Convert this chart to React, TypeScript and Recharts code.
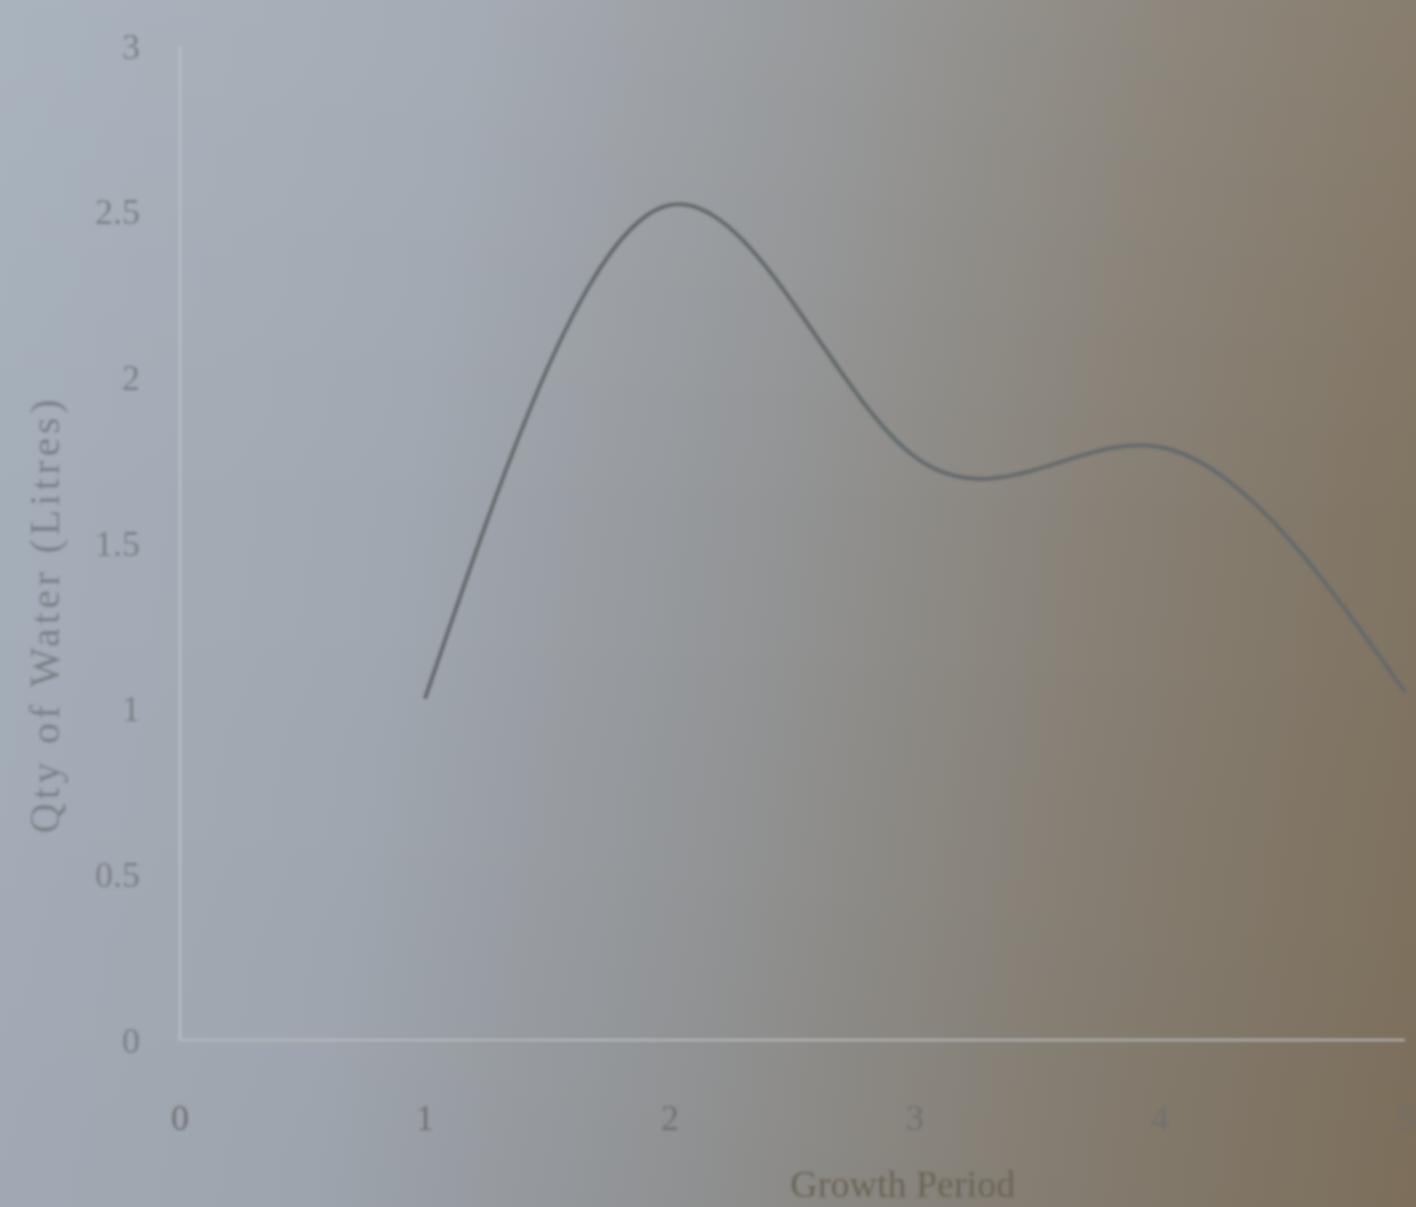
import React from 'react';
import { LineChart, Line, XAxis, YAxis } from 'recharts';

const periods = [1, 2, 3, 4, 5];
const water = [1.03, 2.52, 1.76, 1.79, 1.05];
const xTicks = [0, 1, 2, 3, 4, 5];
const yTicks = [0, 0.5, 1, 1.5, 2, 2.5, 3];
const xTitle = 'Growth Period';
const yTitle = 'Qty of Water (Litres)';

const data = periods.map((p, i) => ({ x: p, y: water[i] }));

const font = '"Liberation Serif", "DejaVu Serif", serif';

const YTitle = (props: any) => {
  const vb = props.viewBox || {};
  const cx = 45;
  const cy = (vb.y || 0) + (vb.height || 0) * 0.572;
  return (
    <text
      x={cx}
      y={cy}
      transform={`rotate(-90, ${cx}, ${cy})`}
      textAnchor="middle"
      dominantBaseline="central"
      fill="#7c8188"
      fontSize={42}
      letterSpacing={4}
      fontFamily={font}
    >
      {yTitle}
    </text>
  );
};

const XTitle = (props: any) => {
  const vb = props.viewBox || {};
  const cx = (vb.x || 0) + (vb.width || 0) * 0.59;
  const cy = 1184;
  return (
    <text
      x={cx}
      y={cy}
      textAnchor="middle"
      dominantBaseline="central"
      fill="#6c6456"
      fontSize={38}
      fontFamily={font}
    >
      {xTitle}
    </text>
  );
};

export default function App() {
  return (
    <div
      style={{
        position: 'absolute',
        left: 0,
        top: 0,
        width: 1416,
        height: 1207,
        background:
          'linear-gradient(180deg, rgba(255,255,255,0.05) 0%, rgba(255,255,255,0) 45%, rgba(0,0,0,0.02) 100%), linear-gradient(98deg, #a5afba 0%, #a0a7b0 30%, #939597 52%, #878075 75%, #7e705c 100%)',
        overflow: 'hidden',
      }}
    >
      <div style={{ filter: 'blur(1.6px)' }}>
        <LineChart
          width={1416}
          height={1207}
          data={data}
          margin={{ top: 46, right: 11, bottom: 0, left: 0 }}
        >
          <XAxis
            type="number"
            dataKey="x"
            domain={[0, 5]}
            ticks={xTicks}
            interval={0}
            height={167}
            tickLine={false}
            tickSize={0}
            tickMargin={64}
            axisLine={{ stroke: '#b9bcbf', strokeWidth: 2 }}
            tick={{ fill: '#717070', fontSize: 36, fontFamily: font }}
            label={<XTitle />}
          />
          <YAxis
            type="number"
            domain={[0, 3]}
            ticks={yTicks}
            interval={0}
            width={180}
            tickLine={false}
            tickSize={0}
            tickMargin={40}
            axisLine={{ stroke: '#bcc2c8', strokeWidth: 2 }}
            tick={{ fill: '#7c7f84', fontSize: 36, fontFamily: font }}
            label={<YTitle />}
          />
          <Line
            type="natural"
            dataKey="y"
            stroke="#646a6c"
            strokeWidth={4}
            dot={false}
            activeDot={false}
            isAnimationActive={false}
          />
        </LineChart>
      </div>
    </div>
  );
}
